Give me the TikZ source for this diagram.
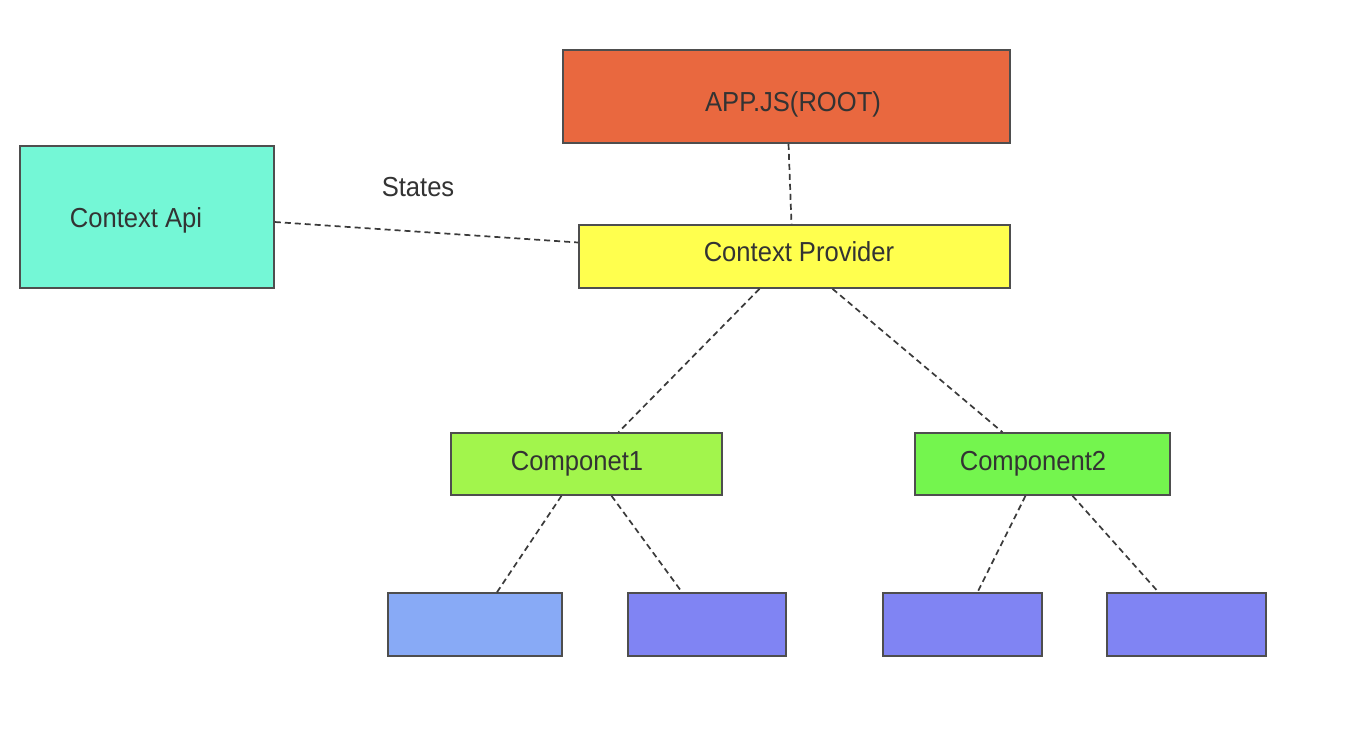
\documentclass[tikz,border=0pt]{standalone}
\usepackage{fontspec}
\setmainfont{Liberation Sans}[FakeStretch=0.93]
\begin{document}
\begin{tikzpicture}[x=1pt,y=-1pt,
  box/.style={draw=boxline,line width=1.6pt,inner sep=0pt},
  lbl/.style={text=txt,inner sep=0pt,font=\fontsize{27.5}{30}\selectfont},
  conn/.style={draw=dashc,line width=1.7pt,dash pattern=on 6pt off 4pt}]
\definecolor{boxline}{HTML}{4E4E4E}
\definecolor{txt}{HTML}{333333}
\definecolor{dashc}{HTML}{3A3A3A}
\definecolor{appc}{HTML}{E9683F}
\definecolor{apic}{HTML}{74F7D6}
\definecolor{provc}{HTML}{FFFF4E}
\definecolor{c1c}{HTML}{A2F54C}
\definecolor{c2c}{HTML}{74F54E}
\definecolor{l1c}{HTML}{88AAF6}
\definecolor{l2c}{HTML}{8084F3}
\useasboundingbox (0,0) rectangle (1346,732);
\fill[white] (0,0) rectangle (1346,732);
\node[box,fill=appc,minimum width=447pt,minimum height=93pt] (app) at (786.5,96.5) {};
\node[box,fill=apic,minimum width=254pt,minimum height=142pt] (api) at (147,217) {};
\node[box,fill=provc,minimum width=431pt,minimum height=63pt] (prov) at (794.5,256.5) {};
\node[box,fill=c1c,minimum width=271pt,minimum height=62pt] (c1) at (586.5,464) {};
\node[box,fill=c2c,minimum width=255pt,minimum height=62pt] (c2) at (1042.5,464) {};
\node[box,fill=l1c,minimum width=174pt,minimum height=63pt] (l1) at (475,624.5) {};
\node[box,fill=l2c,minimum width=158pt,minimum height=63pt] (l2) at (707,624.5) {};
\node[box,fill=l2c,minimum width=159pt,minimum height=63pt] (l3) at (962.5,624.5) {};
\node[box,fill=l2c,minimum width=159pt,minimum height=63pt] (l4) at (1186.5,624.5) {};
\node[lbl] (appt) at (793,104) {APP.JS(ROOT)};
\node[lbl] (apit) at (136,220) {Context Api};
\node[lbl] (provt) at (799,252) {Context Provider};
\node[lbl] (c1t) at (577,464) {Componet1};
\node[lbl] (c2t) at (1033,464) {Component2};
\node[lbl] (states) at (418,187) {States};
\draw[conn] ([xshift=2pt]app.south) -- ([xshift=-3pt]prov.north);
\draw[conn] ([yshift=-5pt]api.east) -- ([yshift=14pt]prov.west);
\draw[conn] ([xshift=-35pt]prov.south) -- ([xshift=32pt]c1.north);
\draw[conn] ([xshift=38pt]prov.south) -- ([xshift=-40pt]c2.north);
\draw[conn] ([xshift=-25pt]c1.south) -- ([xshift=22pt]l1.north);
\draw[conn] ([xshift=25pt]c1.south) -- ([xshift=-25pt]l2.north);
\draw[conn] ([xshift=-17pt]c2.south) -- ([xshift=15pt]l3.north);
\draw[conn] ([xshift=30pt]c2.south) -- ([xshift=-28pt]l4.north);
\end{tikzpicture}
\end{document}
